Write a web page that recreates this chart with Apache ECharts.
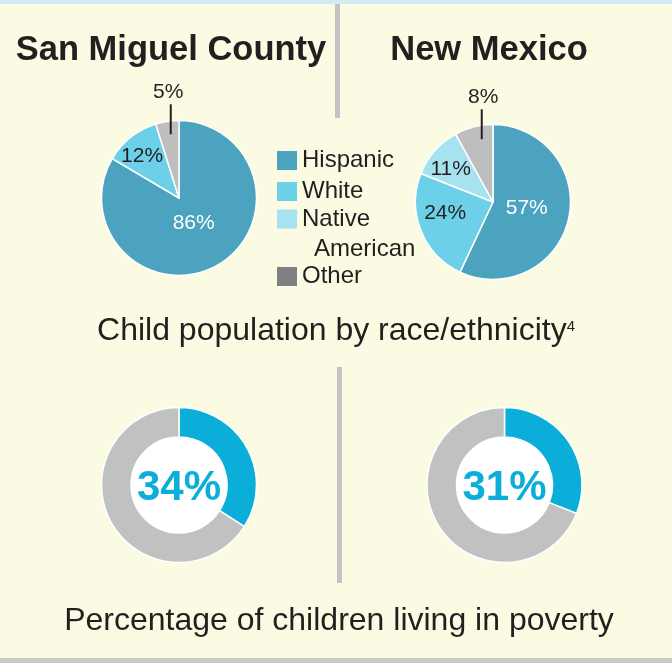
<!DOCTYPE html>
<html>
<head>
<meta charset="utf-8">
<script src="https://cdn.jsdelivr.net/npm/echarts@6/dist/echarts.min.js"></script>
<style>
html,body{margin:0;padding:0;background:#FBFAE3;}
#chart{width:672px;height:663px;}
</style>
</head>
<body>
<div id="chart"></div>
<script>
// ---- data ----
const regions = ['San Miguel County', 'New Mexico'];
const categories = ['Hispanic', 'White', 'Native American', 'Other'];
const sanMiguelShares = [86, 12, null, 5];
const newMexicoShares = [57, 24, 11, 8];
const povertyCategories = ['Living in poverty', 'Not in poverty'];
const sanMiguelPoverty = [34, 66];
const newMexicoPoverty = [31, 69];
const raceTitle = 'Child population by race/ethnicity';
const raceFootnote = '4';
const povertyTitle = 'Percentage of children living in poverty';

// ---- styles ----
const FONT = '"Liberation Sans", Arial, Helvetica, sans-serif';
const TEXT = '#231F20';
const raceColors = ['#4BA3BF', '#6DD0E9', '#A7E2F1', '#BEBEBE'];
const legendColors = ['#4BA3BF', '#6DD0E9', '#A7E2F1', '#808083'];
const povertyColors = ['#0BAED8', '#C0C1C1'];
const pieCenters = [[179, 198], [493, 202]];
const donutCenters = [[179, 485], [504.5, 485]];
// label nudges relative to default inner label position
const innerShift = [
  [[-6, -11], [-11, -9], null, null],
  [[-7, -3], [-9, -4], [-11, -5], null]
];
// callout for the small "Other" slice: offsets from the slice's bounding box
const otherCallout = [
  {barDx: -9, topDy: -39.5, textPad: [0, 5, 0, 0]},
  {barDx: -12, topDy: -38.5, textPad: [0, 0, 0, 3]}
];

function raceData(s, values) {
  return categories.map(function (name, i) {
    const v = values[i];
    const item = {
      name: name,
      value: v == null ? '-' : v,
      itemStyle: {color: raceColors[i]},
      label: {color: i === 0 ? '#FFFFFF' : TEXT}
    };
    if (i === 3) {
      item.label = {
        position: 'inside',
        formatter: '{v|{c}%}\n{l| }',
        rich: {
          v: {fontFamily: FONT, fontSize: 21, lineHeight: 24, color: TEXT, padding: otherCallout[s].textPad},
          l: {width: 2, height: 30, lineHeight: 30, backgroundColor: TEXT}
        }
      };
    }
    return item;
  });
}

function makeLayout(s) {
  return function (p) {
    if (p.dataIndex === 3) {
      const r = p.rect;
      const o = otherCallout[s];
      return {x: r.x + r.width + o.barDx, y: r.y + o.topDy, align: 'center', verticalAlign: 'top'};
    }
    const d = innerShift[s][p.dataIndex];
    if (!d) return {};
    const r = p.labelRect;
    return {x: r.x + r.width / 2 + d[0], y: r.y + r.height / 2 + d[1], align: 'center', verticalAlign: 'middle'};
  };
}

function racePie(s, values) {
  return {
    type: 'pie',
    name: regions[s],
    center: pieCenters[s],
    radius: [0, 77.5],
    startAngle: 90,
    clockwise: true,
    avoidLabelOverlap: false,
    silent: true,
    emphasis: {disabled: true},
    itemStyle: {borderColor: '#FFFFFF', borderWidth: 1.5},
    label: {
      show: true, position: 'inside', formatter: '{c}%',
      fontFamily: FONT, fontSize: 21, color: TEXT
    },
    labelLine: {show: false},
    labelLayout: makeLayout(s),
    data: raceData(s, values)
  };
}

function donut(s, values) {
  return {
    type: 'pie',
    name: regions[s] + ' poverty',
    center: donutCenters[s],
    radius: [48, 77.5],
    startAngle: 90,
    clockwise: true,
    silent: true,
    emphasis: {disabled: true},
    itemStyle: {borderColor: '#FFFFFF', borderWidth: 1.5},
    label: {show: false},
    labelLine: {show: false},
    data: povertyCategories.map(function (name, i) {
      const item = {name: name, value: values[i], itemStyle: {color: povertyColors[i]}};
      if (i === 0) {
        item.label = {
          show: true, position: 'center', formatter: '{t|{c}%}',
          backgroundColor: '#FFFFFF', width: 96, height: 96, lineHeight: 96,
          borderRadius: 48, align: 'center',
          rich: {
            t: {fontFamily: FONT, fontSize: 42, fontWeight: 'bold', color: povertyColors[0],
                lineHeight: 96, padding: [6, 0, 0, 0]}
          }
        };
      }
      return item;
    })
  };
}

const legendTops = [151, 182, 209.5, 267];
const legendBase = {
  orient: 'vertical', left: 277, padding: 0, itemWidth: 20, itemHeight: 19, itemGap: 0,
  icon: 'rect', selectedMode: false,
  itemStyle: {borderWidth: 0},
  textStyle: {fontFamily: FONT, fontSize: 24, lineHeight: 24, color: TEXT}
};
const legends = categories.map(function (name, i) {
  const l = Object.assign({}, legendBase, {
    data: [{name: name, itemStyle: {color: legendColors[i], borderWidth: 0}}],
    top: legendTops[i] - 2.5
  });
  if (name === 'Native American') {
    l.top = legendTops[i] - 35.5;
    l.formatter = function () { return '{a|Native}\n{b|American}'; };
    l.textStyle = {
      fontFamily: FONT, fontSize: 24, lineHeight: 30, color: TEXT, padding: [30, 0, 0, 0],
      rich: {
        a: {fontFamily: FONT, fontSize: 24, lineHeight: 30, color: TEXT},
        b: {fontFamily: FONT, fontSize: 24, lineHeight: 30, color: TEXT, padding: [0, 0, 0, 12]}
      }
    };
  }
  return l;
});

function titleAt(text, x, y, style) {
  return Object.assign({
    text: text, left: x, top: y, padding: 0,
    textAlign: 'center', textVerticalAlign: 'middle'
  }, style);
}

const option = {
  backgroundColor: '#FBFAE3',
  animation: false,
  title: [
    titleAt(regions[0], 171, 50, {textStyle: {fontFamily: FONT, fontSize: 34.5, fontWeight: 'bold', color: TEXT}}),
    titleAt(regions[1], 489, 50, {textStyle: {fontFamily: FONT, fontSize: 34.5, fontWeight: 'bold', color: TEXT}}),
    titleAt('{a|' + raceTitle + '}{s|' + raceFootnote + '}', 336, 331, {
      textStyle: {
        fontWeight: 'normal',
        rich: {
          a: {fontFamily: FONT, fontSize: 32, fontWeight: 'normal', lineHeight: 34, color: TEXT},
          s: {fontFamily: FONT, fontSize: 15, fontWeight: 'normal', lineHeight: 15, color: TEXT,
              verticalAlign: 'top', padding: [5, 0, 0, 0]}
        }
      }
    }),
    titleAt(povertyTitle, 339, 621, {textStyle: {fontFamily: FONT, fontSize: 32, fontWeight: 'normal', color: TEXT}})
  ],
  legend: legends,
  graphic: [
    {type: 'rect', shape: {x: 0, y: 0, width: 672, height: 4}, style: {fill: '#D5EAF4'}, silent: true},
    {type: 'rect', shape: {x: 335, y: 4, width: 5, height: 114}, style: {fill: '#C4C4C4'}, silent: true},
    {type: 'rect', shape: {x: 337, y: 367, width: 5, height: 216}, style: {fill: '#C4C4C4'}, silent: true},
    {type: 'rect', shape: {x: 0, y: 658, width: 672, height: 5}, style: {fill: '#C9C9C9'}, silent: true}
  ],
  series: [
    racePie(0, sanMiguelShares),
    racePie(1, newMexicoShares),
    donut(0, sanMiguelPoverty),
    donut(1, newMexicoPoverty)
  ]
};

const chart = echarts.init(document.getElementById('chart'), null, {renderer: 'canvas'});
chart.setOption(option);
</script>
</body>
</html>
